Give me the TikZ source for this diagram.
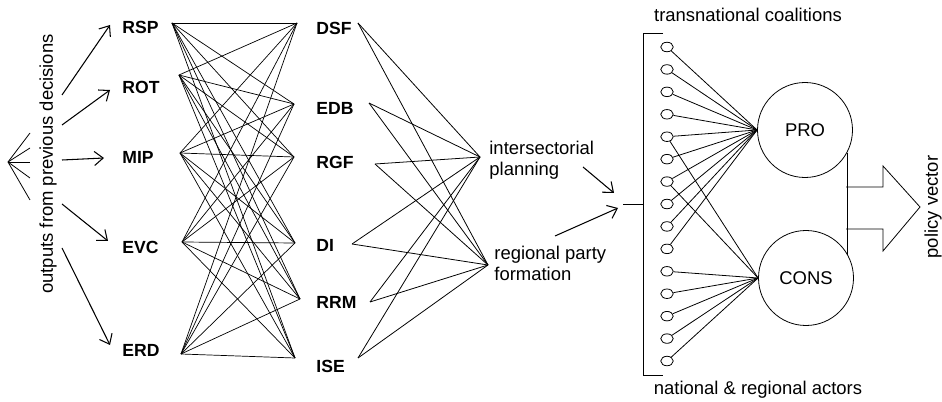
\documentclass[tikz,border=0pt]{standalone}
\usepackage{fontspec}
\setmainfont{Liberation Sans}
\usetikzlibrary{arrows.meta,positioning,calc,shapes.geometric}

\begin{document}
\begin{tikzpicture}[x=0.2mm,y=-0.2mm,line width=0.45pt,
		lbl/.style={font=\bfseries\fontsize{10}{12}\selectfont, anchor=west, inner sep=0pt},
		txt/.style={font=\fontsize{10.5}{12}\selectfont, align=left, inner sep=0pt},
		arr/.style={line width=0.6pt, -{Straight Barb[length=5pt,width=8pt]}},
		actor/.style={ellipse, draw, minimum width=2.5mm, minimum height=1.9mm, inner sep=0pt},
		camp/.style={circle, draw, minimum size=19mm, inner sep=0pt, font=\fontsize{10.5}{12}\selectfont}]
	\useasboundingbox (0,0) rectangle (942,402);

	% outputs from previous decisions
	\node[txt, rotate=90] (outputs) at (48,164) {outputs from previous decisions};
	\coordinate (fan) at (8,162);
	\foreach \y in {133,148,162,178,200}
	\draw (fan) -- (30,\y);

	% first layer
	\foreach \n/\ly/\px/\py/\ax/\ay/\sy in {RSP/27/172/23/110/25/95, ROT/87/179/75/110/90/125, MIP/157/180/153/104/158/160, EVC/247/182/242/108/241/204, ERD/350/181/354/110/345/248}
		{
			\node[lbl] (\n) at (122,\ly) {\n};
			\coordinate (\n-o) at (\px,\py);
			\coordinate (\n-a) at (\ax,\ay);
			\coordinate (\n-s) at (62,\sy);
			\draw[arr] (\n-s) -- (\n-a);
		}

	% second layer
	\foreach \n/\ly/\ix/\iy/\ox/\oy in {DSF/28/297/23/358/23, EDB/108/294/104/369/103, RGF/162/294/157/375/164, DI/245/295/243/352/244, RRM/302/300/299/370/302, ISE/366/295/358/358/358}
		{
			\node[lbl] (\n) at (316,\ly) {\n};
			\coordinate (\n-i) at (\ix,\iy);
			\coordinate (\n-o) at (\ox,\oy);
		}
	\foreach \a in {RSP,ROT,MIP,EVC,ERD}
	\foreach \b in {DSF,EDB,RGF,DI,RRM,ISE}
	\draw[line width=0.4pt] (\a-o) -- (\b-i);

	% planning and party formation
	\node[txt, anchor=north west] (plan) at (489,141) {intersectorial\\planning};
	\node[txt, anchor=north west] (party) at (494,246) {regional party\\formation};
	\coordinate (plan-i) at (480,157);
	\coordinate (party-i) at (488,265);
	\foreach \b in {DSF,EDB,RGF,DI,RRM,ISE}
		{
			\draw (\b-o) -- (plan-i);
			\draw (\b-o) -- (party-i);
		}

	% actors
	\coordinate (in) at (623,204);
	\coordinate (plan-s) at (583,167);
	\coordinate (plan-e) at (614,193);
	\coordinate (party-s) at (555,236);
	\coordinate (party-e) at (618,208);
	\draw[arr] (plan-s) -- (plan-e);
	\draw[arr] (party-s) -- (party-e);
	\draw (663,33) -- (643,33) -- (643,375) -- (663,375);
	\draw (in) -- (643,204);
	\node[txt] (trans) at (748,15) {transnational coalitions};
	\node[txt] (nat) at (758,390) {national \& regional actors};

	\node[camp] (PRO) at (805,130) {PRO};
	\node[camp] (CONS) at (806,278) {CONS};
	\foreach \i in {1,...,15}
	\node[actor] (a\i) at (667,{47+22.43*(\i-1)}) {};
	\foreach \i in {1,...,10}
	\draw (a\i) -- (PRO.west);
	\foreach \i in {5,7,11,12,13,14,15}
	\draw (a\i) -- (CONS.west);

	% policy vector
	\draw (PRO.-29) -- (PRO.-29 |- CONS.29);
	\draw (846,187) -- (883,187) -- (883,166) -- (920,207) -- (883,251) -- (883,229) -- (846,229);
	\node[txt, rotate=90] (policy) at (933,207) {policy vector};
\end{tikzpicture}
\end{document}
